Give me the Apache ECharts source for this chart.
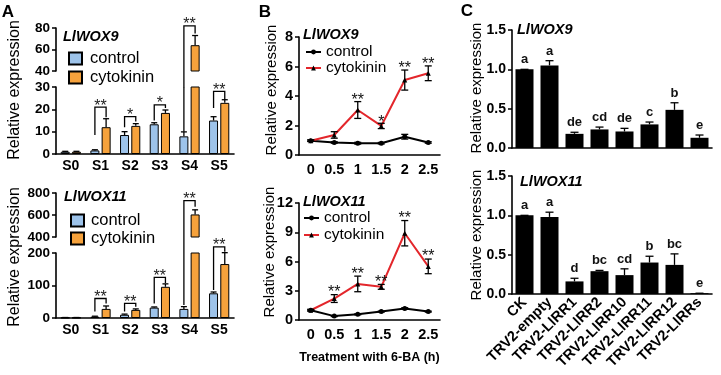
<!DOCTYPE html>
<html>
<head>
<meta charset="utf-8">
<script src="https://cdn.jsdelivr.net/npm/echarts@6/dist/echarts.min.js"></script>
<style>
  html, body { margin: 0; padding: 0; background: #fff; }
  #main { width: 721px; height: 375px; }
</style>
</head>
<body>
<div id="main"></div>
<script>
var FONT = '"Liberation Sans", Arial, sans-serif';

// ---------- A : expression in stages (broken y axis) ----------
var stages = ['S0', 'S1', 'S2', 'S3', 'S4', 'S5'];
var a9Control = [1, 1.6, 8.5, 13.3, 7.9, 15];
var a9ControlErr = [0.2, 0.3, 1.5, 0.7, 2, 1.7];
var a9Cyto = [1, 12, 12.6, 18.4, 64, 22.9];
var a9CytoErr = [0.2, 3.8, 1, 1.3, 9, 1.4];
// brackets: [stage, top, left leg end, right leg end]
var a9BracketsLow = [[1, 21, 8.5, 16.5], [2, 16.7, 12, 14.5], [3, 22, 15, 20.6], [4, 30, 10, '-'], [5, 28, 20.6, 24.2]];
var a9StarsLow = ['**', '*', '*', '', '**'];
var a9BracketsHigh = [[4, 82, 25, 75]];
var a9StarsHigh = ['**'];

var a11Control = [1, 4, 10, 32, 28, 76];
var a11ControlErr = [0.5, 1.5, 2, 2, 7, 4];
var a11Cyto = [1, 28, 25, 96, 605, 166];
var a11CytoErr = [0.5, 9, 3, 9, 42, 35];
var a11BracketsLow = [[1, 60, 20, 45], [2, 45, 20, 35], [3, 125, 45, 108], [4, 200, 40, '-'], [5, 219, 86, 204]];
var a11StarsLow = ['**', '**', '**', '', '**'];
var a11BracketsHigh = [[4, 730, 255, 675]];
var a11StarsHigh = ['**'];

// ---------- B : time course after 6-BA ----------
var hours = ['0', '0.5', '1', '1.5', '2', '2.5'];
var b9Control = [0.97, 0.85, 0.8, 0.8, 1.24, 0.85];
var b9ControlErr = [0.05, 0.05, 0.06, 0.05, 0.16, 0.05];
var b9Cyto = [0.97, 1.36, 3.05, 1.97, 5.08, 5.54];
var b9CytoErr = [0.05, 0.22, 0.57, 0.18, 0.68, 0.5];
var b9Stars = ['', '', '**', '*', '**', '**'];

var b11Control = [1, 0.4, 0.58, 0.86, 1.18, 0.86];
var b11ControlErr = [0.05, 0.05, 0.05, 0.05, 0.08, 0.05];
var b11Cyto = [1, 2.2, 3.7, 3.4, 8.9, 5.5];
var b11CytoErr = [0.1, 0.4, 0.8, 0.25, 1.3, 0.75];
var b11Stars = ['', '**', '**', '**', '**', '**'];

// ---------- C : VIGS lines ----------
var lines = ['CK', 'TRV2-empty', 'TRV2-LlRR1', 'TRV2-LlRR2', 'TRV2-LlRR10', 'TRV2-LlRR11', 'TRV2-LlRR12', 'TRV2-LlRRs'];
var c9Values = [1, 1.05, 0.18, 0.236, 0.21, 0.3, 0.485, 0.13];
var c9Err = [0, 0.06, 0.02, 0.03, 0.04, 0.03, 0.09, 0.035];
var c9Letters = ['a', 'a', 'de', 'cd', 'de', 'c', 'b', 'e'];
var c11Values = [1, 0.98, 0.16, 0.29, 0.24, 0.4, 0.37, 0.01];
var c11Err = [0, 0.06, 0.04, 0.01, 0.08, 0.08, 0.14, 0];
var c11Letters = ['a', 'a', 'd', 'bc', 'cd', 'b', 'bc', 'e'];

var BLUE = '#9DC3EA', ORANGE = '#F6A23C', RED = '#E3262B';
var AXLINE = { lineStyle: { color: '#000', width: 1.6 } };
var TICK = { alignWithLabel: true, length: 4, lineStyle: { color: '#000', width: 1.5 } };

function valAxis(grid, min, max, interval, size, fmt) {
  return {
    type: 'value', gridIndex: grid, min: min, max: max, interval: interval,
    axisLine: { show: true, lineStyle: AXLINE.lineStyle },
    axisTick: { show: true, length: 4, lineStyle: TICK.lineStyle },
    splitLine: { show: false },
    axisLabel: { color: '#000', fontWeight: 'bold', fontSize: size, fontFamily: FONT, margin: 6, formatter: fmt }
  };
}
function catAxis(grid, data, show, label) {
  return {
    type: 'category', gridIndex: grid, data: data, show: show,
    axisLine: AXLINE, axisTick: TICK,
    axisLabel: Object.assign({ color: '#000', fontWeight: 'bold', fontFamily: FONT, interval: 0 }, label)
  };
}
function keepRange(arr, lo, hi) {
  return arr.map(function (v) { return (v >= lo && v <= hi) ? v : '-'; });
}
function errorBars(xi, yi, vals, errs, off, half, both, lo, hi) {
  var data = vals.map(function (v, i) {
    return (v >= lo && v <= hi) ? [i, v, errs[i]] : [i, '-', '-'];
  });
  return {
    type: 'custom', xAxisIndex: xi, yAxisIndex: yi, z: 5, silent: true,
    encode: { x: 0, y: 1 }, data: data,
    renderItem: function (p, api) {
      var v = api.value(1);
      if (isNaN(v)) return;
      var x = api.value(0), e = api.value(2);
      var c = api.coord([x, v]);
      var top = api.coord([x, v + e]);
      var bot = both ? api.coord([x, v - e]) : c;
      var px = c[0] + off, st = { stroke: '#000', lineWidth: 1.3 };
      var ch = [
        { type: 'line', shape: { x1: px, y1: bot[1], x2: px, y2: top[1] }, style: st },
        { type: 'line', shape: { x1: px - half, y1: top[1], x2: px + half, y2: top[1] }, style: st }
      ];
      if (both) ch.push({ type: 'line', shape: { x1: px - half, y1: bot[1], x2: px + half, y2: bot[1] }, style: st });
      return { type: 'group', children: ch };
    }
  };
}
function brackets(xi, yi, rows, stars, off) {
  return {
    type: 'custom', xAxisIndex: xi, yAxisIndex: yi, z: 6, silent: true,
    encode: { x: 0, y: 1 }, data: rows,
    renderItem: function (p, api) {
      var x = api.value(0), l = api.value(2), r = api.value(3);
      var t = api.coord([x, api.value(1)]);
      var lx = t[0] - off, rx = t[0] + off;
      var pts = [];
      if (!isNaN(l)) pts.push([lx, api.coord([x, l])[1]]);
      pts.push([lx, t[1]]);
      if (!isNaN(r)) { pts.push([rx, t[1]]); pts.push([rx, api.coord([x, r])[1]]); }
      var ch = [{ type: 'polyline', shape: { points: pts }, style: { stroke: '#000', fill: null, lineWidth: 1.3 } }];
      var s = stars[p.dataIndex];
      if (s) ch.push({ type: 'text', x: t[0], y: t[1] - 1,
        style: { text: s, fill: '#222', font: '16px ' + FONT, align: 'center', verticalAlign: 'middle', textAlign: 'center', textVerticalAlign: 'middle' } });
      return { type: 'group', children: ch };
    }
  };
}
function marks(xi, yi, tops, labels, font, dy, valign) {
  return {
    type: 'custom', xAxisIndex: xi, yAxisIndex: yi, z: 7, silent: true,
    encode: { x: 0, y: 1 }, data: tops.map(function (v, i) { return [i, v]; }),
    renderItem: function (p, api) {
      var s = labels[p.dataIndex];
      if (!s) return;
      var c = api.coord([api.value(0), api.value(1)]);
      return { type: 'text', x: c[0], y: c[1] - dy,
        style: { text: s, fill: '#111', font: font, align: 'center', verticalAlign: valign, textAlign: 'center', textVerticalAlign: valign } };
    }
  };
}
function sum(a, b) { return a.map(function (v, i) { return v + b[i]; }); }

function barSeries(name, xi, yi, data, color) {
  return {
    name: name, type: 'bar', xAxisIndex: xi, yAxisIndex: yi, data: data,
    barWidth: 9, barGap: '25%',
    itemStyle: { color: color, borderColor: '#000', borderWidth: 1 }
  };
}
function lineSeries(name, xi, yi, data, lineColor, symbol) {
  return {
    name: name, type: 'line', xAxisIndex: xi, yAxisIndex: yi, data: data,
    symbol: symbol, symbolSize: 5, z: 4,
    lineStyle: { color: lineColor, width: 2 },
    itemStyle: { color: '#000' }
  };
}
function legend(left, top, names, icon, size, lh, gap, iw, ih, pad) {
  return {
    left: left, top: top, orient: 'vertical', selectedMode: false, padding: 0,
    itemWidth: iw, itemHeight: ih, itemGap: gap,
    data: names.map(function (n) { return icon ? { name: n, icon: icon } : { name: n }; }),
    formatter: function (n) { return n.split('|')[0]; },
    textStyle: { color: '#000', fontSize: size, lineHeight: lh, fontFamily: FONT, padding: [0, 0, 0, pad] }
  };
}
function vText(x, y, text, size) {
  return { type: 'text', x: x, y: y, rotation: Math.PI / 2,
    style: { text: text, font: size + 'px ' + FONT, fill: '#000', textAlign: 'center', textVerticalAlign: 'middle' } };
}
function gene(x, y, text) {
  return { type: 'text', x: x, y: y,
    style: { text: text, font: 'italic bold 14.5px ' + FONT, fill: '#000', textAlign: 'left', textVerticalAlign: 'middle' } };
}
function letter(x, y, text) {
  return { type: 'text', x: x, y: y,
    style: { text: text, font: 'bold 17px ' + FONT, fill: '#000', textAlign: 'center', textVerticalAlign: 'middle' } };
}

var chart = echarts.init(document.getElementById('main'));
var grids = [
  { left: 56, top: 28, width: 178, height: 43 },   // 0 A9 upper
  { left: 56, top: 87, width: 178, height: 67 },   // 1 A9 lower
  { left: 56, top: 193, width: 178, height: 44 },  // 2 A11 upper
  { left: 56, top: 253, width: 178, height: 65 },  // 3 A11 lower
  { left: 299, top: 37, width: 141, height: 118 }, // 4 B9
  { left: 299, top: 203, width: 141, height: 117 },// 5 B11
  { left: 512, top: 30, width: 200, height: 118 }, // 6 C9
  { left: 512, top: 176, width: 200, height: 118 } // 7 C11
];
var oneDec = function (v) { return v.toFixed(1); };
var xAxes = [
  catAxis(0, stages, false, {}),
  catAxis(1, stages, true, { fontSize: 14, margin: 5 }),
  catAxis(2, stages, false, {}),
  catAxis(3, stages, true, { fontSize: 14, margin: 5 }),
  catAxis(4, hours, true, { fontSize: 14.5, margin: 7 }),
  Object.assign(catAxis(5, hours, true, { fontSize: 14.5, margin: 7 }), {
    name: 'Treatment with 6-BA (h)', nameLocation: 'middle', nameGap: 31,
    nameTextStyle: { color: '#000', fontWeight: 'bold', fontSize: 12.5, fontFamily: FONT }
  }),
  catAxis(6, lines, true, { show: false }),
  catAxis(7, lines, true, { fontSize: 14.5, rotate: 45, margin: 6 })
];
var yAxes = [
  valAxis(0, 40, 80, 20, 13.5),
  valAxis(1, 0, 30, 10, 13.5),
  valAxis(2, 400, 800, 200, 13.5),
  valAxis(3, 0, 200, 100, 13.5),
  valAxis(4, 0, 8, 2, 14.5),
  valAxis(5, 0, 12, 3, 14.5),
  valAxis(6, 0, 1.5, 0.5, 14, oneDec),
  valAxis(7, 0, 1.5, 0.5, 14, oneDec)
];

var series = [
  // A9 lower / upper
  barSeries('control|A9', 1, 1, a9Control, BLUE),
  barSeries('cytokinin|A9', 1, 1, a9Cyto, ORANGE),
  errorBars(1, 1, a9Control, a9ControlErr, -5.6, 3, false, 0, 30),
  errorBars(1, 1, a9Cyto, a9CytoErr, 5.6, 3, false, 0, 30),
  brackets(1, 1, a9BracketsLow, a9StarsLow, 5.6),
  barSeries('control|A9', 0, 0, keepRange(a9Control, 40, 80), BLUE),
  barSeries('cytokinin|A9', 0, 0, keepRange(a9Cyto, 40, 80), ORANGE),
  errorBars(0, 0, a9Cyto, a9CytoErr, 5.6, 3, false, 40, 80),
  brackets(0, 0, a9BracketsHigh, a9StarsHigh, 5.6),
  // A11 lower / upper
  barSeries('control|A11', 3, 3, a11Control, BLUE),
  barSeries('cytokinin|A11', 3, 3, a11Cyto, ORANGE),
  errorBars(3, 3, a11Control, a11ControlErr, -5.6, 3, false, 0, 200),
  errorBars(3, 3, a11Cyto, a11CytoErr, 5.6, 3, false, 0, 200),
  brackets(3, 3, a11BracketsLow, a11StarsLow, 5.6),
  barSeries('control|A11', 2, 2, keepRange(a11Control, 400, 800), BLUE),
  barSeries('cytokinin|A11', 2, 2, keepRange(a11Cyto, 400, 800), ORANGE),
  errorBars(2, 2, a11Cyto, a11CytoErr, 5.6, 3, false, 400, 800),
  brackets(2, 2, a11BracketsHigh, a11StarsHigh, 5.6),
  // B9
  lineSeries('control|B9', 4, 4, b9Control, '#000', 'circle'),
  lineSeries('cytokinin|B9', 4, 4, b9Cyto, RED, 'triangle'),
  errorBars(4, 4, b9Control, b9ControlErr, 0, 3.5, true, 0, 99),
  errorBars(4, 4, b9Cyto, b9CytoErr, 0, 3.5, true, 0, 99),
  marks(4, 4, sum(b9Cyto, b9CytoErr), b9Stars, '16px ' + FONT, 1, 'middle'),
  // B11
  lineSeries('control|B11', 5, 5, b11Control, '#000', 'circle'),
  lineSeries('cytokinin|B11', 5, 5, b11Cyto, RED, 'triangle'),
  errorBars(5, 5, b11Control, b11ControlErr, 0, 3.5, true, 0, 99),
  errorBars(5, 5, b11Cyto, b11CytoErr, 0, 3.5, true, 0, 99),
  marks(5, 5, sum(b11Cyto, b11CytoErr), b11Stars, '16px ' + FONT, 2, 'middle'),
  // C9 / C11
  { type: 'bar', xAxisIndex: 6, yAxisIndex: 6, data: c9Values, barWidth: 18, itemStyle: { color: '#000' } },
  errorBars(6, 6, c9Values, c9Err, 0, 4, false, 0, 2),
  marks(6, 6, sum(c9Values, c9Err), c9Letters, 'bold 13px ' + FONT, 3, 'bottom'),
  { type: 'bar', xAxisIndex: 7, yAxisIndex: 7, data: c11Values, barWidth: 18, itemStyle: { color: '#000' } },
  errorBars(7, 7, c11Values, c11Err, 0, 4, false, 0, 2),
  marks(7, 7, sum(c11Values, c11Err), c11Letters, 'bold 13px ' + FONT, 3, 'bottom')
];

chart.setOption({
  animation: false,
  textStyle: { fontFamily: FONT },
  grid: grids,
  xAxis: xAxes,
  yAxis: yAxes,
  legend: [
    legend(68, 50, ['control|A9', 'cytokinin|A9'], 'rect', 16.5, 16, 2, 13, 12, 3),
    legend(70, 212, ['control|A11', 'cytokinin|A11'], 'rect', 16.5, 16, 1, 13, 12, 2),
    legend(305, 44, ['control|B9', 'cytokinin|B9'], null, 15.5, 15, 0, 15, 6, 0),
    legend(303, 210, ['control|B11', 'cytokinin|B11'], null, 15.5, 15, 1, 15, 6, 0)
  ],
  graphic: [
    letter(8, 12, 'A'), letter(265, 12, 'B'), letter(467, 11, 'C'),
    vText(15, 90, 'Relative expression', 16),
    vText(15, 257, 'Relative expression', 16),
    vText(272, 90, 'Relative expression', 15),
    vText(270, 252, 'Relative expression', 15),
    vText(477, 88, 'Relative expression', 15),
    vText(477, 235, 'Relative expression', 15),
    gene(63, 37, 'LlWOX9'), gene(64, 197, 'LlWOX11'),
    gene(303, 35, 'LlWOX9'), gene(303, 202, 'LlWOX11'),
    gene(517, 30, 'LlWOX9'), gene(520, 182, 'LlWOX11')
  ],
  series: series
});
</script>
</body>
</html>
